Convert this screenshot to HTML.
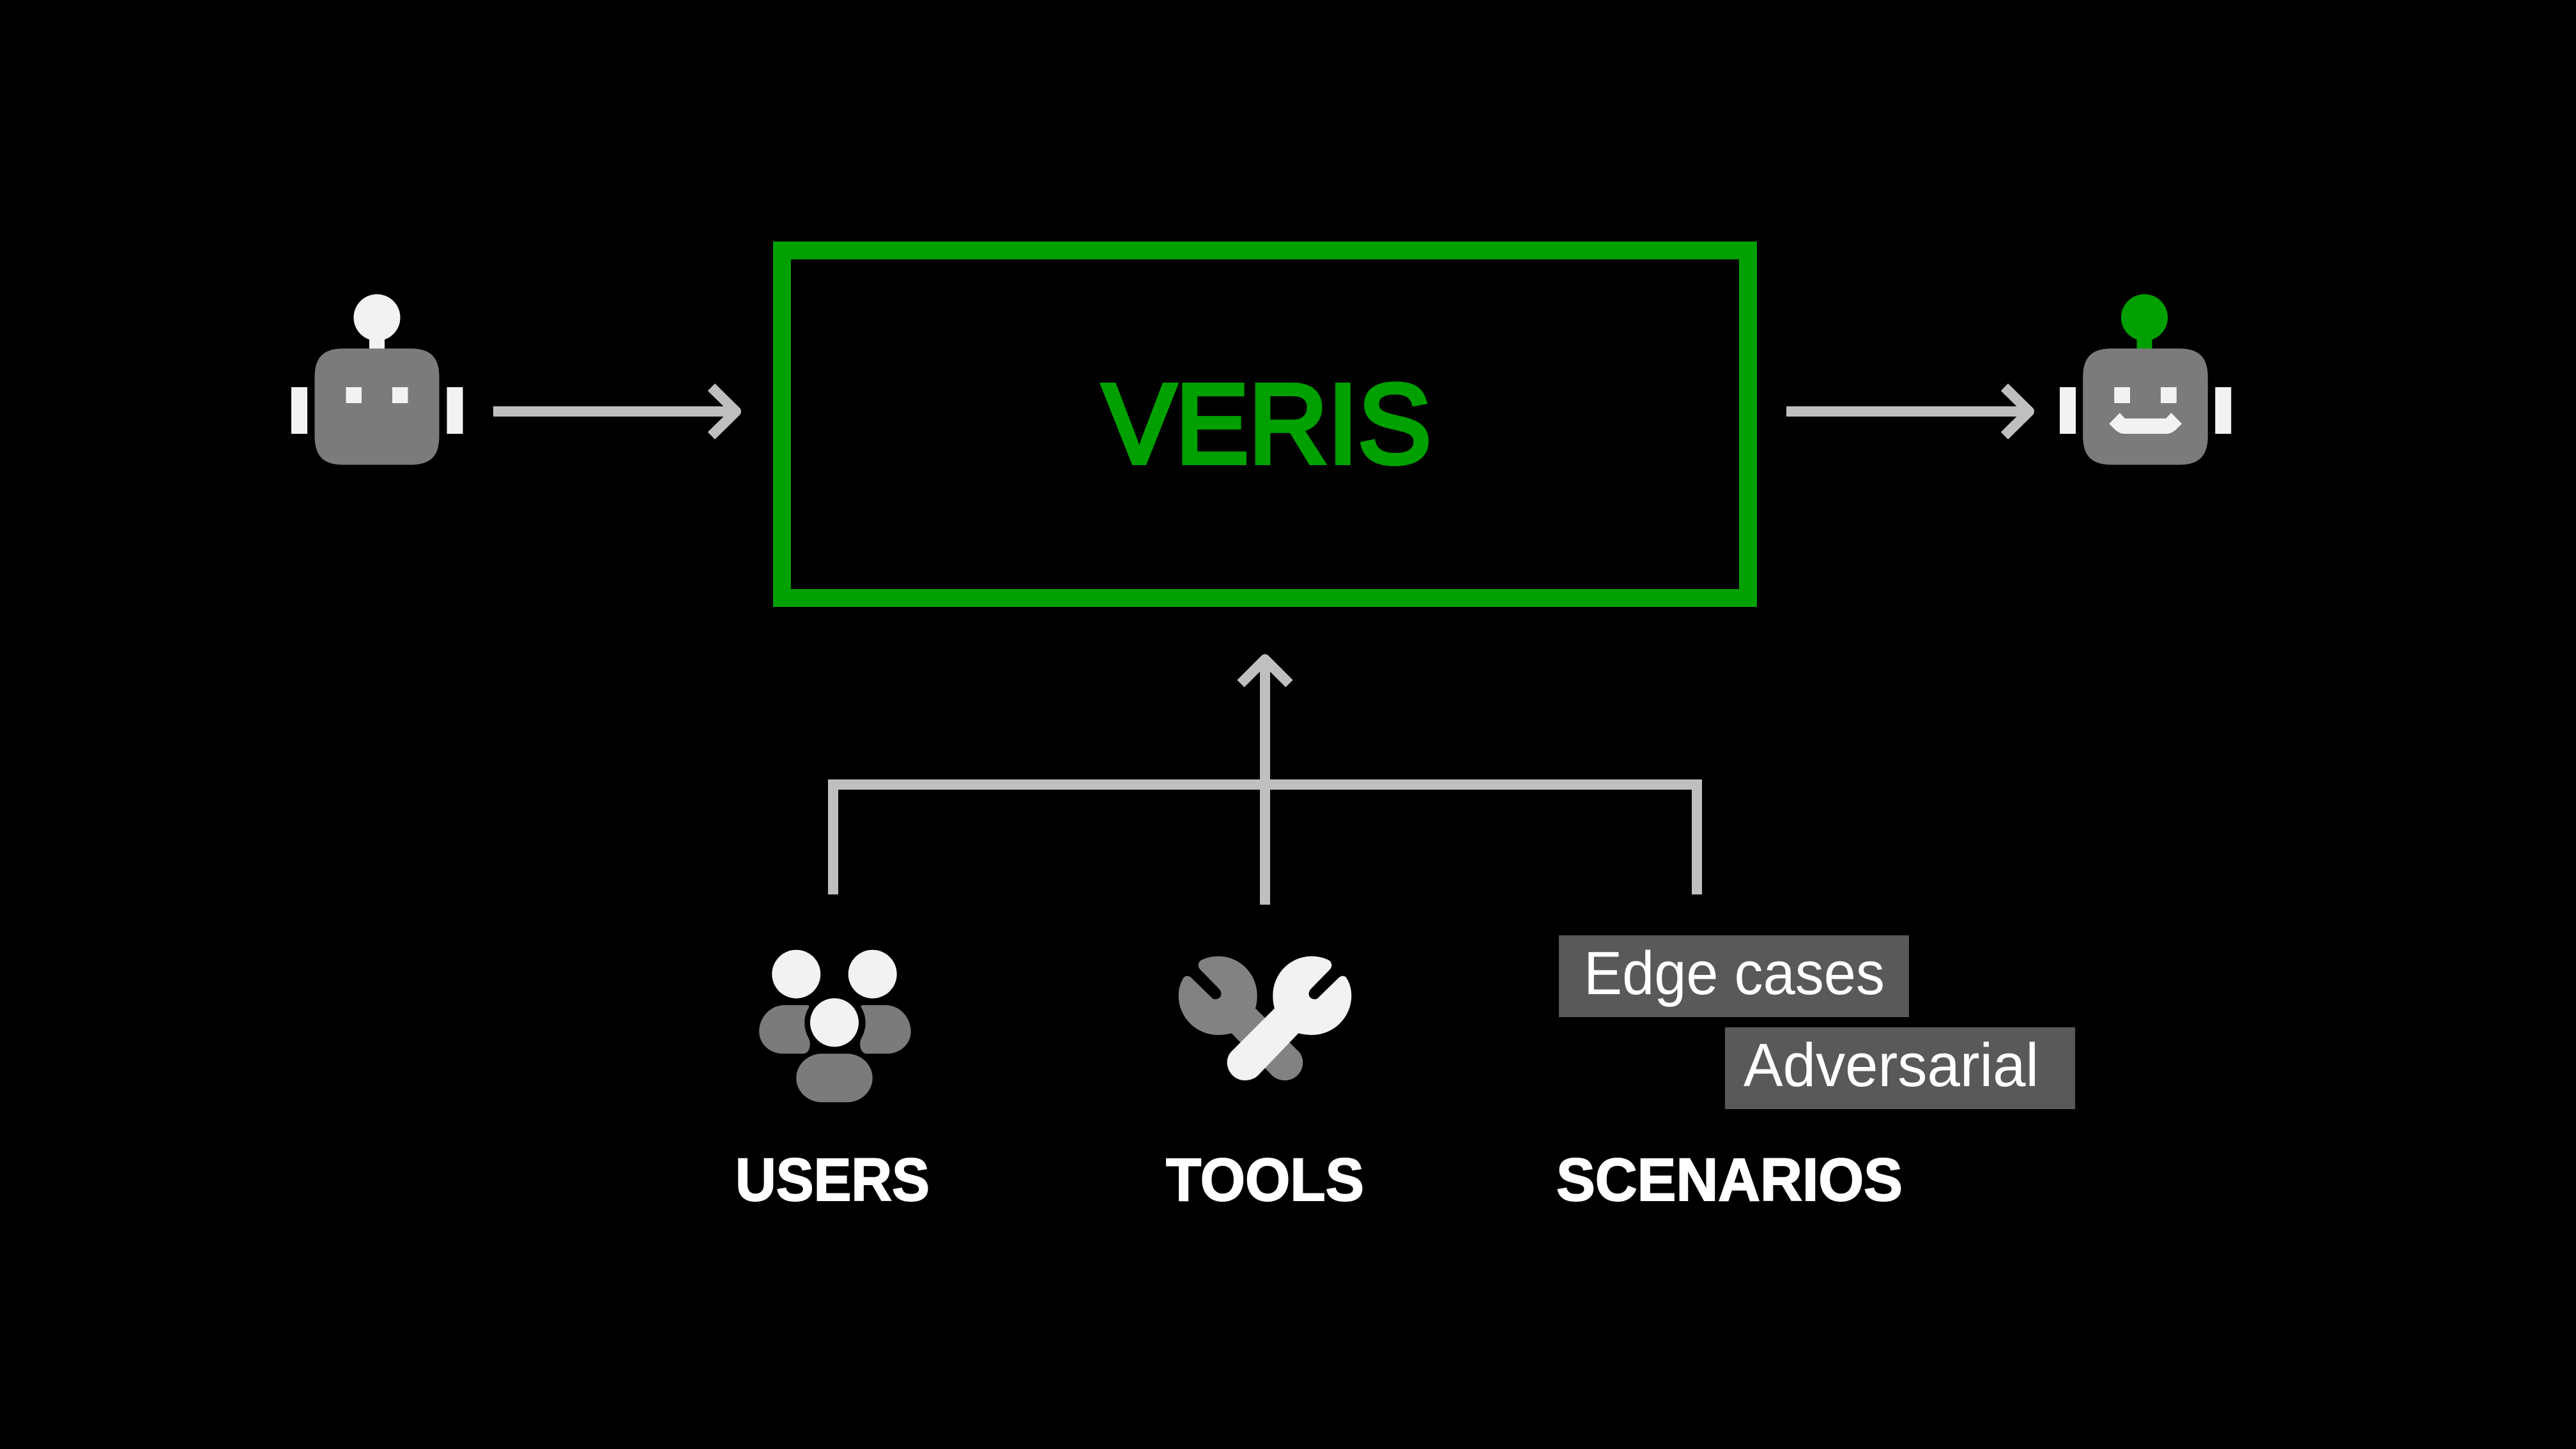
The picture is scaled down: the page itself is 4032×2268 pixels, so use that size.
<!DOCTYPE html>
<html><head><meta charset="utf-8"><style>html,body{margin:0;padding:0;background:#000}svg{display:block}text{font-family:"Liberation Sans",sans-serif}</style></head>
<body>
<svg xmlns="http://www.w3.org/2000/svg" width="4032" height="2268" viewBox="0 0 4032 2268">
<rect width="4032" height="2268" fill="#000"/>
<!-- Box -->
<rect x="1224" y="392" width="1512" height="544" fill="none" stroke="#00a000" stroke-width="28"/>
<text x="1726" y="724" font-size="176" fill="#00a000" stroke="#00a000" stroke-width="8" textLength="514" lengthAdjust="spacingAndGlyphs">VERIS</text>
<!-- Left robot -->
<circle cx="590" cy="497" r="36.5" fill="#f2f2f2"/>
<rect x="578" y="525" width="24" height="21" fill="#f2f2f2"/>
<path d="M538,545.5H642C674,545.5 687.5,559 687.5,591V682C687.5,714 674,727.5 642,727.5H538C506,727.5 492.5,714 492.5,682V591C492.5,559 506,545.5 538,545.5Z" fill="#7b7b7b"/>
<rect x="456" y="606" width="25" height="73" fill="#f2f2f2"/>
<rect x="699.5" y="606" width="25" height="73" fill="#f2f2f2"/>
<rect x="541.5" y="606" width="24.5" height="25" fill="#f2f2f2"/>
<rect x="614" y="606" width="24.5" height="25" fill="#f2f2f2"/>
<!-- Right robot -->
<circle cx="3356.5" cy="497" r="36.5" fill="#00a000"/>
<rect x="3344.5" y="525" width="24" height="21" fill="#00a000"/>
<path d="M3306,545.5H3410C3442,545.5 3455.8,559 3455.8,591V682C3455.8,714 3442,727.5 3410,727.5H3306C3274,727.5 3260.2,714 3260.2,682V591C3260.2,559 3274,545.5 3306,545.5Z" fill="#7b7b7b"/>
<rect x="3224" y="606" width="25" height="73" fill="#f2f2f2"/>
<rect x="3467.3" y="606" width="25" height="73" fill="#f2f2f2"/>
<rect x="3309.2" y="606" width="24.8" height="25" fill="#f2f2f2"/>
<rect x="3382" y="606" width="24.8" height="25" fill="#f2f2f2"/>
<path d="M3301.2,663.3L3318,646.3L3326,655H3390L3398.4,646.3L3415.2,663.3L3405.5,672.7C3400,677 3396,679 3390,679H3326C3320,679 3316,677 3310.8,672.7Z" fill="#f2f2f2"/>
<!-- Arrows -->
<g fill="none" stroke="#bfbfbf" stroke-width="16" stroke-linejoin="round">
<path d="M772,644H1150"/>
<path d="M1113.4,606L1152,644L1113.4,682"/>
<path d="M2796,644H3174"/>
<path d="M3137.4,606L3176,644L3137.4,682"/>
<path d="M1980,1416V1034"/>
<path d="M1942,1070L1980,1032L2018,1070"/>
<path d="M1304,1400V1228H2656V1400" stroke-linejoin="miter"/>
</g>
<!-- Users -->
<g fill="#f2f2f2">
<circle cx="1246.3" cy="1524.7" r="38"/>
<circle cx="1365.7" cy="1524.7" r="38"/>
<circle cx="1306" cy="1600.5" r="38"/>
</g>
<g fill="#7b7b7b">
<rect x="1246.3" y="1649.3" width="119.4" height="76" rx="40" ry="38"/>
<path d="M1228,1573.3H1263C1266,1573.3 1267,1575 1266,1577C1261,1585 1259.3,1593 1259.3,1601.7C1259.3,1610 1262,1618 1265.7,1625C1270,1633 1268,1649.3 1256.7,1649.3H1226C1205,1649.3 1188.3,1634 1188.3,1615C1188.3,1592 1206,1573.3 1228,1573.3Z"/>
<path transform="translate(2614 0) scale(-1 1)" d="M1228,1573.3H1263C1266,1573.3 1267,1575 1266,1577C1261,1585 1259.3,1593 1259.3,1601.7C1259.3,1610 1262,1618 1265.7,1625C1270,1633 1268,1649.3 1256.7,1649.3H1226C1205,1649.3 1188.3,1634 1188.3,1615C1188.3,1592 1206,1573.3 1228,1573.3Z"/>
</g>
<!-- Tools -->
<path fill="#828282" transform="translate(3960 0) scale(-1 1)" d="M1995,1578.3C1993,1572 1992.3,1565 1992.3,1558.3C1992.3,1524 2019.5,1496.7 2053.3,1496.7C2062,1496.7 2072,1498.7 2080,1503C2085,1506 2086,1513 2081,1518L2051.7,1548C2046,1554 2048,1564 2058.3,1564C2061,1564 2063,1562.5 2065,1560L2095,1530.7C2100,1526 2106,1527 2108.3,1532C2113,1540 2115.3,1549 2115.3,1558.3C2115.3,1592.5 2087.5,1620 2053.3,1620C2046,1620 2039,1619 2032.3,1617.3L1968.3,1684C1962.5,1689 1955.5,1691 1948.3,1691C1933,1691 1920.7,1678 1920.7,1662.7C1920.7,1655 1924,1648.5 1930,1643.3Z"/>
<path fill="#f2f2f2" d="M1995,1578.3C1993,1572 1992.3,1565 1992.3,1558.3C1992.3,1524 2019.5,1496.7 2053.3,1496.7C2062,1496.7 2072,1498.7 2080,1503C2085,1506 2086,1513 2081,1518L2051.7,1548C2046,1554 2048,1564 2058.3,1564C2061,1564 2063,1562.5 2065,1560L2095,1530.7C2100,1526 2106,1527 2108.3,1532C2113,1540 2115.3,1549 2115.3,1558.3C2115.3,1592.5 2087.5,1620 2053.3,1620C2046,1620 2039,1619 2032.3,1617.3L1968.3,1684C1962.5,1689 1955.5,1691 1948.3,1691C1933,1691 1920.7,1678 1920.7,1662.7C1920.7,1655 1924,1648.5 1930,1643.3Z"/>
<!-- Tags -->
<rect x="2440" y="1464" width="548" height="128" fill="#595959"/>
<rect x="2700" y="1608" width="548" height="128" fill="#595959"/>
<text x="2479" y="1556" font-size="96" fill="#ffffff" textLength="471" lengthAdjust="spacingAndGlyphs">Edge cases</text>
<text x="2729" y="1700" font-size="96" fill="#ffffff" textLength="462" lengthAdjust="spacingAndGlyphs">Adversarial</text>
<!-- Labels -->
<g font-size="95" font-weight="700" fill="#ffffff" stroke="#ffffff" stroke-width="2">
<text x="1151" y="1879" textLength="304" lengthAdjust="spacingAndGlyphs">USERS</text>
<text x="1825" y="1879" textLength="310" lengthAdjust="spacingAndGlyphs">TOOLS</text>
<text x="2436" y="1879" textLength="542" lengthAdjust="spacingAndGlyphs">SCENARIOS</text>
</g>
</svg>
</body></html>
